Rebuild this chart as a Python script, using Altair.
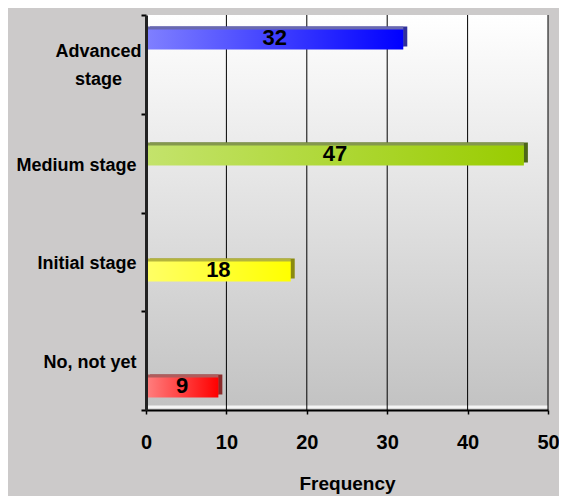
import altair as alt
import pandas as pd

categories = ["Advanced stage", "Medium stage", "Initial stage", "No, not yet"]
frequencies = [32, 47, 18, 9]
x_ticks = [0, 10, 20, 30, 40, 50]
grid_values = [10, 20, 30, 40, 50]
front_light = ["#8080ff", "#c4e36c", "#ffff66", "#ff8080"]
front_dark = ["#0000ff", "#99cc00", "#ffff00", "#ff0000"]
top_face = ["#6868b0", "#84984c", "#b4b43c", "#b05c5c"]
side_face = ["#30309a", "#4d6619", "#8a8a10", "#8b2a2a"]

df = pd.DataFrame({"cat": categories, "freq": frequencies, "top": top_face, "side": side_face})
grid_df = pd.DataFrame({"freq": grid_values})
one = pd.DataFrame({"a": [0]})

FONT = "Liberation Sans, Arial, sans-serif"

x_scale = alt.Scale(domain=[0, 50], nice=False)
x_axis = alt.Axis(values=x_ticks, grid=False, title="Frequency", titleFont=FONT,
                  titleFontWeight="bold", titleFontSize=19, titleColor="black", titlePadding=22,
                  labelFont=FONT, labelFontWeight="bold", labelFontSize=20, labelColor="black",
                  labelPadding=18, tickSize=4, tickColor="black", tickWidth=1.5,
                  domainColor="black", domainWidth=2, zindex=1, labelFlush=False)

def xenc(field="freq"):
    return alt.X(f"{field}:Q", scale=x_scale, axis=x_axis)

bar_scale = alt.Scale(type="band", domain=categories, paddingInner=0.8276,
                      paddingOuter=0.1164, align=0.54)
label_scale = alt.Scale(type="band", domain=categories, paddingInner=0, paddingOuter=0)

ybar = alt.Y("cat:N", scale=bar_scale, sort=categories, axis=None)

is_adv = "datum.value == 'Advanced stage'"
y_axis = alt.Axis(title=None, labelFont=FONT, labelFontWeight="bold", labelFontSize=18,
                  labelColor="black", labelLineHeight=28, labelLimit=220,
                  labelBaseline="middle",
                  labelAlign={"condition": {"test": is_adv, "value": "center"}, "value": "right"},
                  labelPadding={"condition": {"test": is_adv, "value": 43}, "value": 5},
                  labelOffset={"condition": {"test": is_adv, "value": -13}, "value": 2},
                  labelExpr="datum.label == 'Advanced stage' ? ['Advanced', 'stage'] : datum.label",
                  tickBand="extent", tickSize=5, tickWidth=2, tickColor="black",
                  domainColor="#222222", domainWidth=3, zindex=1)

bg = alt.Chart(one).mark_rect(
    fill=alt.Gradient(gradient="linear", x1=0, y1=0, x2=0, y2=1,
                      stops=[alt.GradientStop(color="#ffffff", offset=0),
                             alt.GradientStop(color="#c2c2c2", offset=1)])
).encode(x=alt.value(0), x2=alt.value("width"), y=alt.value(0), y2=alt.value("height"))

floor = alt.Chart(one).mark_rule(color="#f4f4f4", strokeWidth=3, yOffset=-3).encode(
    x=alt.value(0), x2=alt.value("width"), y=alt.value("height"))

grid = alt.Chart(grid_df).mark_rule(color="black", strokeWidth=1).encode(
    x=xenc(), y=alt.value(0), y2=alt.value("height"))

labels_layer = alt.Chart(df).mark_point(opacity=0).encode(
    y=alt.Y("cat:N", scale=label_scale, sort=categories, axis=y_axis), x=alt.value(0))

side = alt.Chart(df).mark_bar(xOffset=4, yOffset=-3, y2Offset=-3).encode(
    y=ybar, x=xenc(), color=alt.Color("side:N", scale=None))
top = alt.Chart(df).mark_bar(yOffset=-3, y2Offset=-3).encode(
    y=ybar, x=xenc(), color=alt.Color("top:N", scale=None))

fronts = []
for c, lt, dk in zip(categories, front_light, front_dark):
    fronts.append(
        alt.Chart(df).transform_filter(alt.datum.cat == c).mark_bar(
            color=alt.Gradient(gradient="linear", x1=0, y1=0, x2=1, y2=0,
                               stops=[alt.GradientStop(color=lt, offset=0),
                                      alt.GradientStop(color=dk, offset=1)])
        ).encode(y=ybar, x=xenc())
    )

text = alt.Chart(df).transform_calculate(mid="datum.freq / 2").mark_text(
    font=FONT, fontWeight="bold", fontSize=22, color="black", baseline="middle", dy=-2
).encode(y=ybar, x=xenc("mid"), text="freq:Q")

chart = alt.layer(bg, floor, grid, labels_layer, side, top, *fronts, text).resolve_scale(
    y="independent"
).properties(
    width=402, height=395, background="#cccaca",
    padding={"left": 138, "top": 7, "right": 11, "bottom": 86},
    autosize=alt.AutoSizeParams(type="none"),
).configure_view(stroke=None)

chart.save("out.html", embed_options={"renderer": "svg", "actions": False})
